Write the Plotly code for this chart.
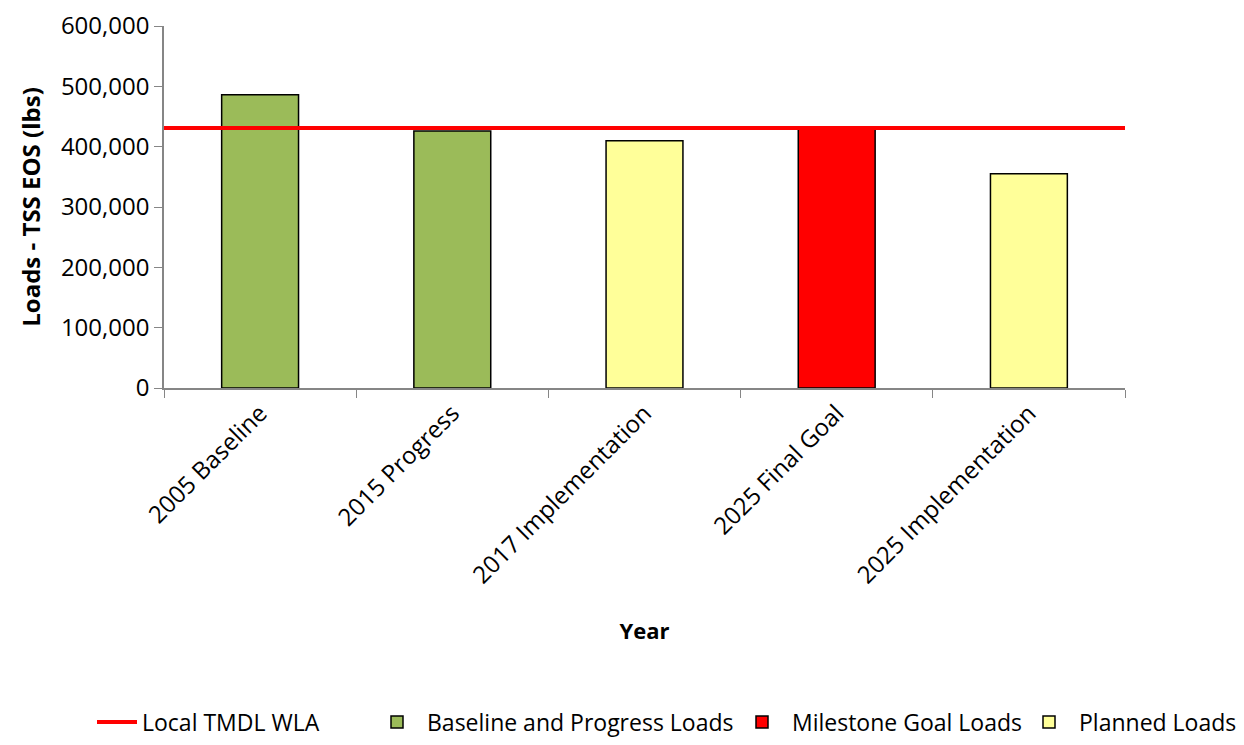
import plotly.graph_objects as go

categories = ["2005 Baseline", "2015 Progress", "2017 Implementation", "2025 Final Goal", "2025 Implementation"]
progress_cats = ["2005 Baseline", "2015 Progress"]
progress_vals = [486000, 426000]
goal_cats = ["2025 Final Goal"]
goal_vals = [429000]
planned_cats = ["2017 Implementation", "2025 Implementation"]
planned_vals = [410000, 355000]
wla_value = 431000
y_ticks = [0, 100000, 200000, 300000, 400000, 500000, 600000]

FONT = "Open Sans"
W, H = 1228, 729
L, T = 156, 18
PLOT_BOTTOM = 380
XAXIS_END = 1117
LINE_END = 1132
R = W - LINE_END
B = H - PLOT_BOTTOM
pw = W - L - R
ph = H - T - B


def px_x(px):
    return (px - L) / pw


def px_y(py):
    return (H - B - py) / ph


LEG_Y = px_y(714)

fig = go.Figure()
fig.add_trace(go.Bar(x=progress_cats, y=progress_vals, name="Baseline and Progress Loads",
                     marker=dict(color="#9BBB59", line=dict(color="black", width=1.5)), width=0.4,
                     legend="legend2"))
fig.add_trace(go.Bar(x=goal_cats, y=goal_vals, name="Milestone Goal Loads",
                     marker=dict(color="#FF0000", line=dict(color="black", width=1.5)), width=0.4,
                     legend="legend3"))
fig.add_trace(go.Bar(x=planned_cats, y=planned_vals, name="Planned Loads",
                     marker=dict(color="#FFFF99", line=dict(color="black", width=1.5)), width=0.4,
                     legend="legend4"))
fig.add_trace(go.Scatter(x=[0, 1], y=[wla_value, wla_value], mode="lines",
                         line=dict(color="#FF0000", width=4), name="Local TMDL WLA",
                         xaxis="x2", yaxis="y", legend="legend"))


def leg(px, iw=50):
    return dict(orientation="h", x=px_x(px), xanchor="left", y=LEG_Y, yanchor="middle",
                font=dict(family=FONT, size=23, color="black"), itemwidth=iw,
                bgcolor="rgba(0,0,0,0)", borderwidth=0)


fig.update_layout(
    width=W, height=H,
    margin=dict(l=L, r=R, t=T, b=B, autoexpand=False),
    paper_bgcolor="white", plot_bgcolor="white",
    barmode="overlay",
    font=dict(family=FONT, size=20, color="black"),
    xaxis=dict(type="category", categoryorder="array", categoryarray=categories,
               range=[-0.5, 4.5], domain=[0, (XAXIS_END - L) / pw],
               tickson="boundaries", ticks="outside", ticklen=8, tickcolor="#868686",
               showline=True, linecolor="#868686", linewidth=1.5, showgrid=False,
               tickangle=-45, tickfont=dict(size=24, color="black"), automargin=False,
               title=dict(text="<b>Year</b>", font=dict(size=22), standoff=35)),
    xaxis2=dict(overlaying="x", range=[0, 1], domain=[3 / pw, 1], visible=False, anchor="y"),
    yaxis=dict(range=[0, 600000], tickvals=y_ticks, tickformat=",d",
               ticksuffix="\u00a0\u00a0", ticklabeloverflow="allow",
               ticks="outside", ticklen=8, tickcolor="#868686",
               showline=True, linecolor="#868686", linewidth=1.5, showgrid=False,
               zeroline=False, tickfont=dict(size=24, color="black"), automargin=False,
               title=dict(text="<b>Loads - TSS EOS (lbs)</b>", font=dict(size=24), standoff=14)),
    legend=leg(84, 40),
    legend2=leg(359),
    legend3=leg(724),
    legend4=leg(1011),
    showlegend=True,
)

fig.write_html("out.html")
